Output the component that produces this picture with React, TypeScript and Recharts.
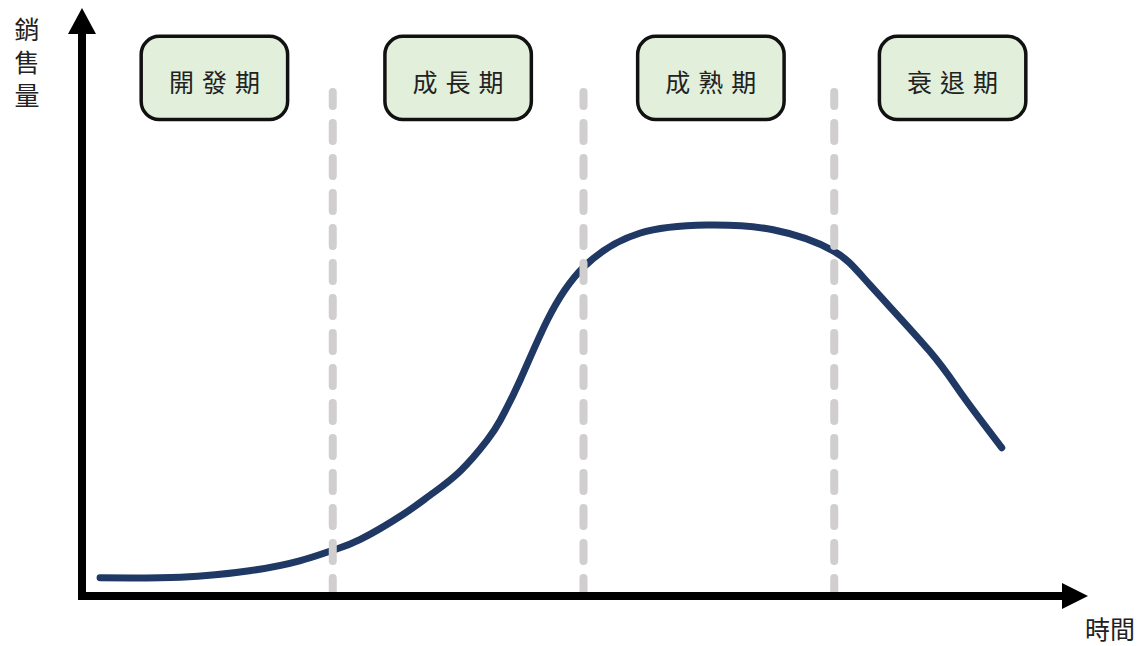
import React from 'react';
import { LineChart, Line, XAxis, YAxis, ReferenceLine, ReferenceArea } from 'recharts';

// product life cycle curve (time 0-100, sales 0-100)
const time = [1.8, 9.8, 16.7, 21.7, 25.0, 27.7, 32.0, 34.7, 37.7, 40.4, 41.7, 43.7, 46.4, 50.0, 55.6, 62.3, 68.9, 74.9, 78.6, 84.5, 87.8, 91.7];
const sales = [3.1, 3.2, 4.3, 6.0, 7.8, 9.6, 13.9, 17.2, 21.3, 26.6, 30.0, 36.9, 47.1, 56.1, 61.9, 63.3, 62.5, 58.9, 53.0, 41.8, 34.2, 25.3];

const stages = ['開發期', '成長期', '成熟期', '衰退期'];
const stageCenters = [13.2, 37.5, 62.7, 86.8];
const boundaries = [25, 50, 75];

const yLabel = ['銷', '售', '量'];
const xLabel = '時間';

const data = time.map((t, i) => ({ t, v: sales[i] }));

const FONT = '"Noto Sans CJK TC", "Noto Sans", sans-serif';

const YArrow = (p: any) => {
  const { x1, y1, x2, y2 } = p;
  const tip = y2 - 2;
  return (
    <g>
      <line x1={x1} y1={y1 + 4} x2={x2} y2={tip + 20} stroke="#000" strokeWidth={8} />
      <polygon points={`${x2},${tip} ${x2 - 14},${tip + 26} ${x2 + 14},${tip + 26}`} fill="#000" />
      {yLabel.map((c, i) => (
        <text key={c} x={x1 - 55} y={tip + 20 + i * 33} fontSize={25} fill="#222"
          fontFamily={FONT} textAnchor="middle" dominantBaseline="central">{c}</text>
      ))}
    </g>
  );
};

const XArrow = (p: any) => {
  const { x1, y1, x2, y2 } = p;
  const tip = x2 + 3;
  return (
    <g>
      <line x1={x1 - 4} y1={y1} x2={tip - 20} y2={y2} stroke="#000" strokeWidth={8} />
      <polygon points={`${tip},${y2} ${tip - 26},${y2 - 13} ${tip - 26},${y2 + 13}`} fill="#000" />
      <text x={tip + 22} y={y2 + 32} fontSize={25} fill="#222" fontFamily={FONT}
        textAnchor="middle" dominantBaseline="central">{xLabel}</text>
    </g>
  );
};

const StageBox = (name: string) => (p: any) => {
  const { x, y, width, height } = p;
  return (
    <g>
      <rect x={x} y={y} width={width} height={height} rx={18} ry={18}
        fill="#e2efda" stroke="#111" strokeWidth={3.5} />
      <text x={x + width / 2 + 4} y={y + height / 2 + 3} fontSize={25} fill="#222"
        fontFamily={FONT} textAnchor="middle" dominantBaseline="central" letterSpacing={8}>{name}</text>
    </g>
  );
};

export default function App() {
  return (
    <div style={{ position: 'absolute', left: 0, top: 0, background: '#fff' }}>
      <LineChart width={1145} height={646} data={data}
        margin={{ top: 10, right: 60, bottom: 50, left: 82 }}>
        <XAxis type="number" dataKey="t" domain={[0, 100]} hide />
        <YAxis type="number" domain={[0, 100]} hide />
        {stages.map((s, i) => (
          <ReferenceArea key={s} x1={stageCenters[i] - 7.3} x2={stageCenters[i] + 7.3} y1={81.3} y2={95.5}
            ifOverflow="visible" shape={StageBox(s)} />
        ))}
        <Line type="natural" dataKey="v" stroke="#1f3864" strokeWidth={7} strokeLinecap="round"
          dot={false} isAnimationActive={false} />
        {boundaries.map((b) => (
          <ReferenceLine key={b} segment={[{ x: b, y: 0 }, { x: b, y: 86 }]} ifOverflow="visible"
            stroke="#d0cece" strokeWidth={8} strokeDasharray="18 17" strokeLinecap="round" />
        ))}
        <ReferenceLine segment={[{ x: 0, y: 0 }, { x: 0, y: 100 }]} ifOverflow="visible" shape={YArrow} />
        <ReferenceLine segment={[{ x: 0, y: 0 }, { x: 100, y: 0 }]} ifOverflow="visible" shape={XArrow} />
      </LineChart>
    </div>
  );
}
